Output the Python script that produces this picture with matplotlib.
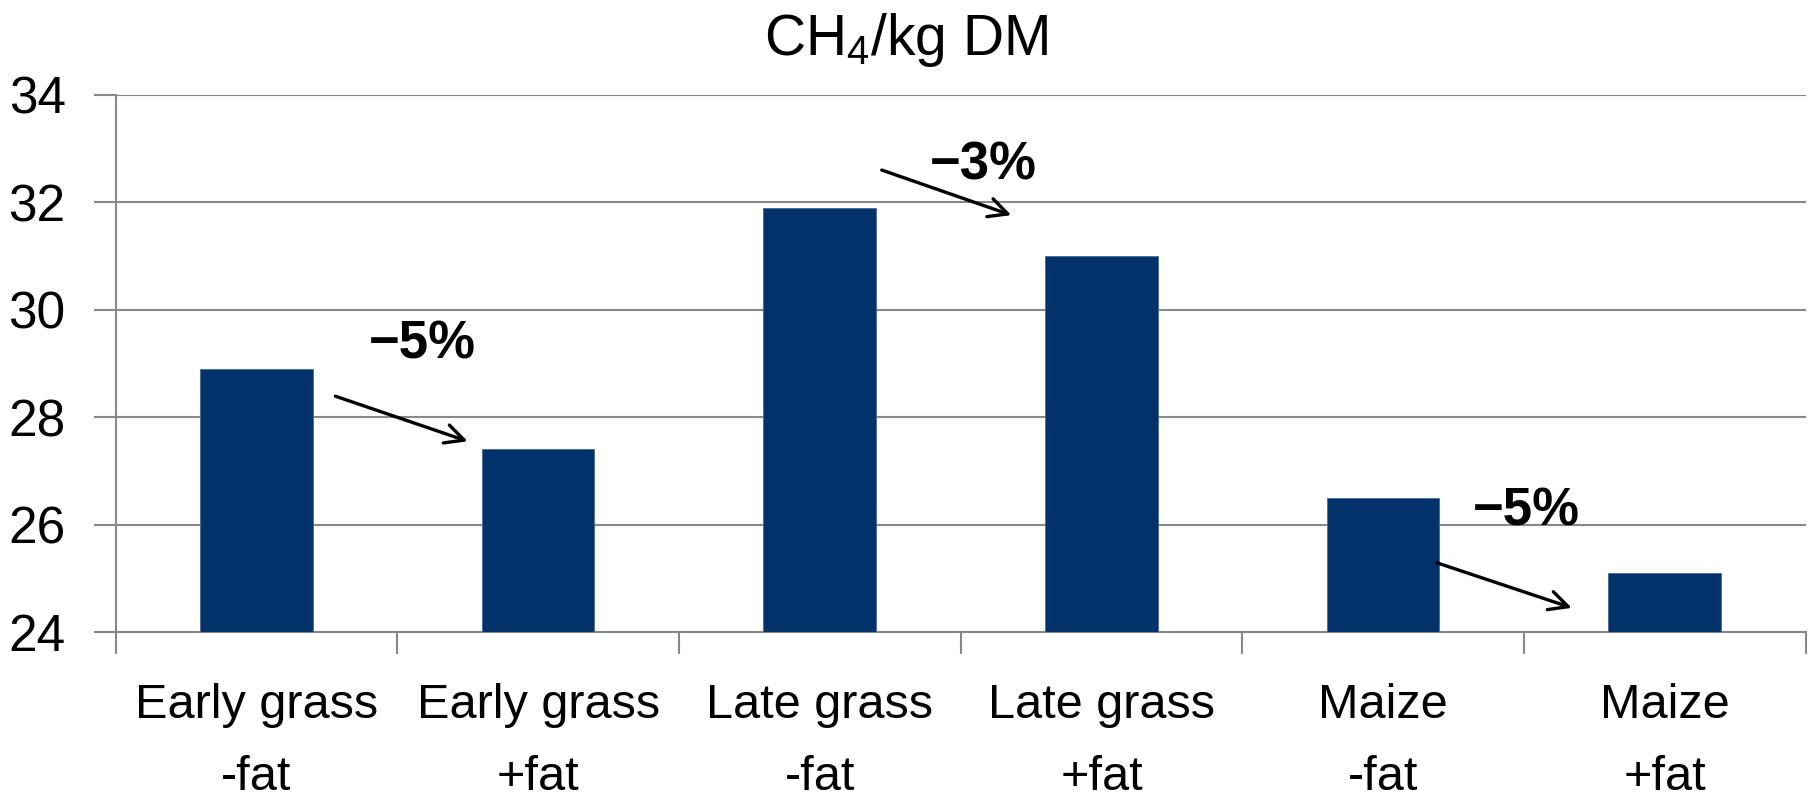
import numpy as np
import matplotlib
matplotlib.use("Agg")
import matplotlib.pyplot as plt

plt.rcParams['font.family'] = ['Liberation Sans', 'DejaVu Sans']
plt.rcParams['mathtext.fontset'] = 'custom'
plt.rcParams['mathtext.rm'] = 'Liberation Sans'
plt.rcParams['mathtext.default'] = 'regular'

# data
categories = ['Early grass\n-fat', 'Early grass\n+fat', 'Late grass\n-fat',
              'Late grass\n+fat', 'Maize\n-fat', 'Maize\n+fat']
ch4_per_kg_dm = [28.9, 27.4, 31.9, 31.0, 26.5, 25.1]
y_ticks = [24, 26, 28, 30, 32, 34]

# change annotations: label, label position, arrow start, arrow end (data coords)
change_labels = ['\u22125%', '\u22123%', '\u22125%']
label_xy = [(0.59, 29.35), (2.58, 32.69), (4.51, 26.24)]
arrow_from = [(0.28, 28.39), (2.22, 32.60), (4.19, 25.29)]
arrow_to = [(0.75, 27.55), (2.68, 31.76), (4.67, 24.45)]

bar_color = '#03316A'
grid_color = '#888888'

fig = plt.figure(figsize=(18.13, 8.05), dpi=100)
ax = fig.add_axes([0.0638, 0.2149, 0.9321, 0.6673])

x = np.arange(len(categories))
ax.bar(x, ch4_per_kg_dm, width=0.4, color=bar_color,
       edgecolor='#4a6a96', linewidth=0.6, zorder=3)

ax.set_ylim(24, 34)
ax.set_xlim(-0.5, len(categories) - 0.5)
ax.set_yticks(y_ticks)
ax.yaxis.grid(True, color=grid_color, linewidth=1.5, zorder=0)

# category boundaries as major ticks, labels on minor ticks at bar centres
ax.set_xticks(np.arange(-0.5, len(categories)), labels=[''] * (len(categories) + 1))
ax.set_xticks(x, labels=categories, minor=True)
ax.tick_params(axis='x', which='major', length=16, width=1.5, color=grid_color)
ax.tick_params(axis='x', which='minor', length=0, pad=37, labelsize=35)
ax.tick_params(axis='y', length=16, width=1.5, color=grid_color, labelsize=37, pad=20)
for lab in ax.get_xticklabels(minor=True):
    lab.set_linespacing(1.75)

for side in ['top', 'right']:
    ax.spines[side].set_visible(False)
for side in ['left', 'bottom']:
    ax.spines[side].set_color(grid_color)
    ax.spines[side].set_linewidth(1.5)

for lab, pos, a0, a1 in zip(change_labels, label_xy, arrow_from, arrow_to):
    ax.annotate('', xy=a1, xytext=a0,
                arrowprops=dict(arrowstyle='->', color='black', lw=2.4,
                                mutation_scale=34, shrinkA=0, shrinkB=0),
                zorder=4)
    ax.text(pos[0], pos[1], lab, fontsize=38, fontweight='bold',
            ha='center', va='center', zorder=4)

fig.text(0.5, 1 - 40 / 805, 'CH$_4$/kg DM', fontsize=41, ha='center', va='center')

fig.savefig('out.png', dpi=100)
